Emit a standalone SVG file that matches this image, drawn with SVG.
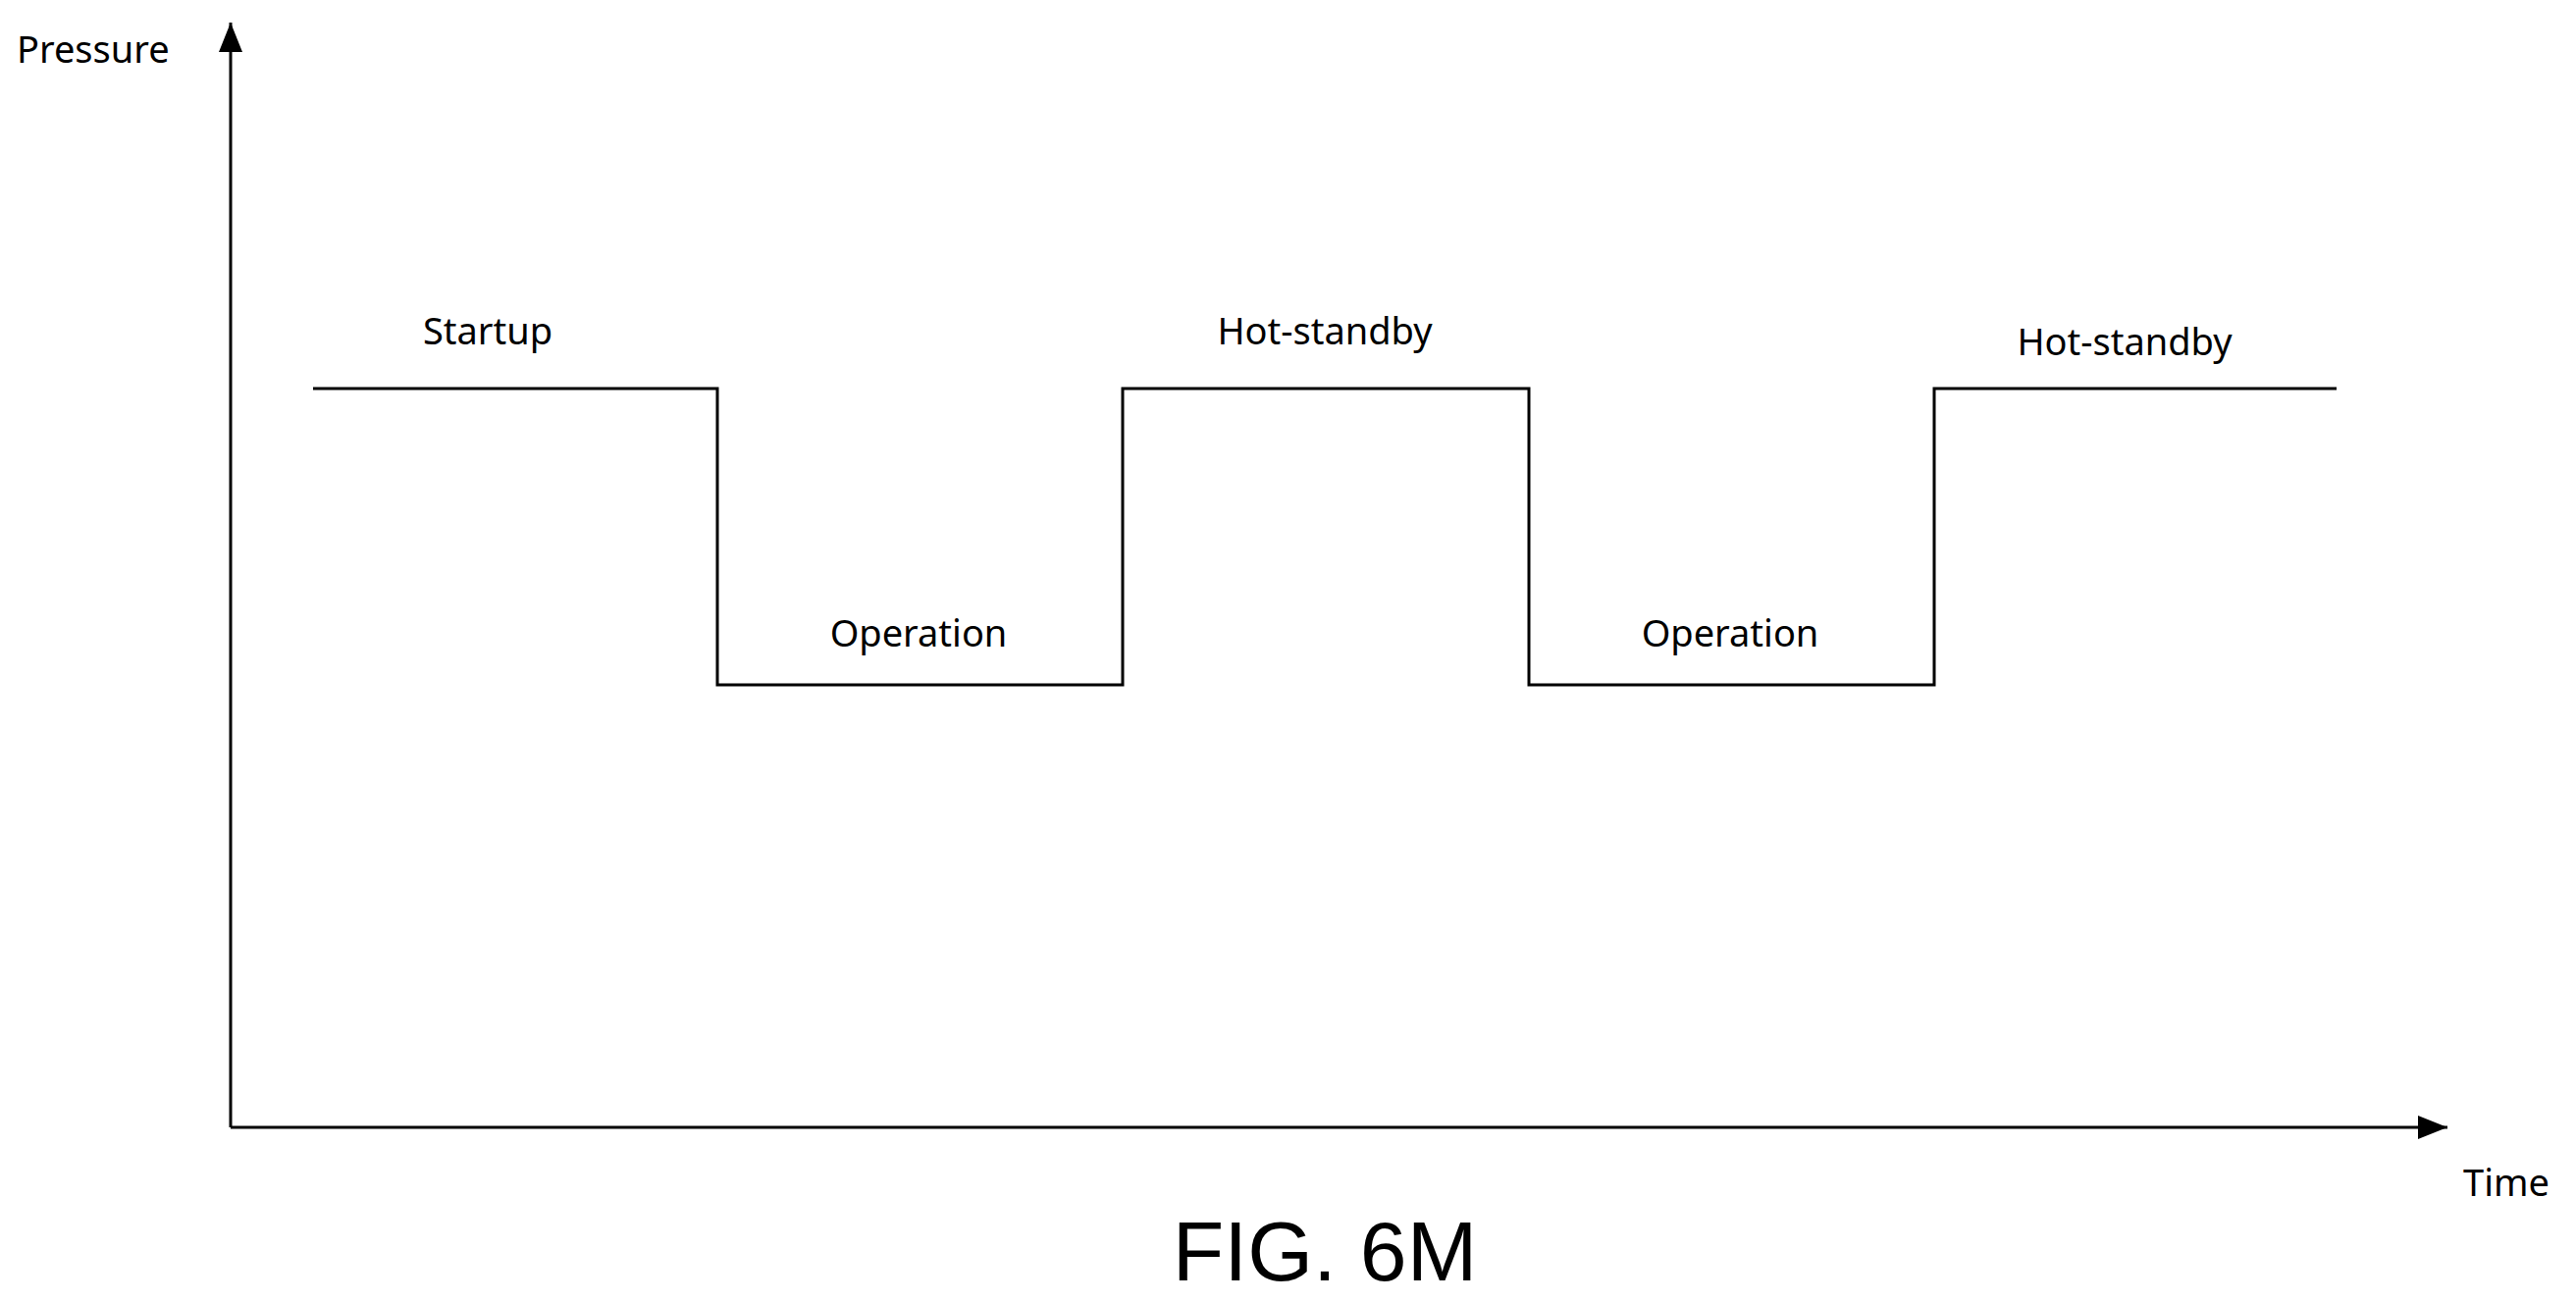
<svg xmlns="http://www.w3.org/2000/svg" width="2625" height="1327" viewBox="0 0 2625 1327">
<style>
.t{font-family:"Noto Sans","Open Sans",sans-serif;font-size:38px;fill:#000}
.ln{stroke:#000;stroke-width:3;fill:none}
</style>
<defs><marker id="ah" markerWidth="12" markerHeight="10" refX="11" refY="5" orient="auto" markerUnits="userSpaceOnUse" viewBox="0 0 12 10"><path d="M0,0 L12,5 L0,10Z" fill="#000"/></marker>
<marker id="ah2" markerWidth="30" markerHeight="24" refX="30" refY="12" orient="auto" markerUnits="userSpaceOnUse"><path d="M0,0 L30,12 L0,24Z" fill="#000"/></marker></defs>
<rect width="2625" height="1327" fill="#fff"/>
<g id="axes">
<line class="ln" x1="235" y1="1149" x2="235" y2="23" marker-end="url(#ah2)"/>
<line class="ln" x1="235" y1="1149" x2="2494" y2="1149" marker-end="url(#ah2)"/>
</g>
<g id="connectors">
<polyline class="ln" points="319,396 731,396 731,698 1144,698 1144,396 1558,396 1558,698 1971,698 1971,396 2381,396"/>
</g>
<g id="labels">
<text class="t" x="17" y="64">Pressure</text>
<text class="t" x="2510" y="1219">Time</text>
<text class="t" x="497" y="351" text-anchor="middle">Startup</text>
<text class="t" x="1350" y="351" text-anchor="middle">Hot-standby</text>
<text class="t" x="2165" y="362" text-anchor="middle">Hot-standby</text>
<text class="t" x="936" y="659" text-anchor="middle">Operation</text>
<text class="t" x="1763" y="659" text-anchor="middle">Operation</text>
<text x="1350" y="1305" text-anchor="middle" style="font-family:'Liberation Sans',Arial,sans-serif;font-size:86px">FIG. 6M</text>
</g>
</svg>
